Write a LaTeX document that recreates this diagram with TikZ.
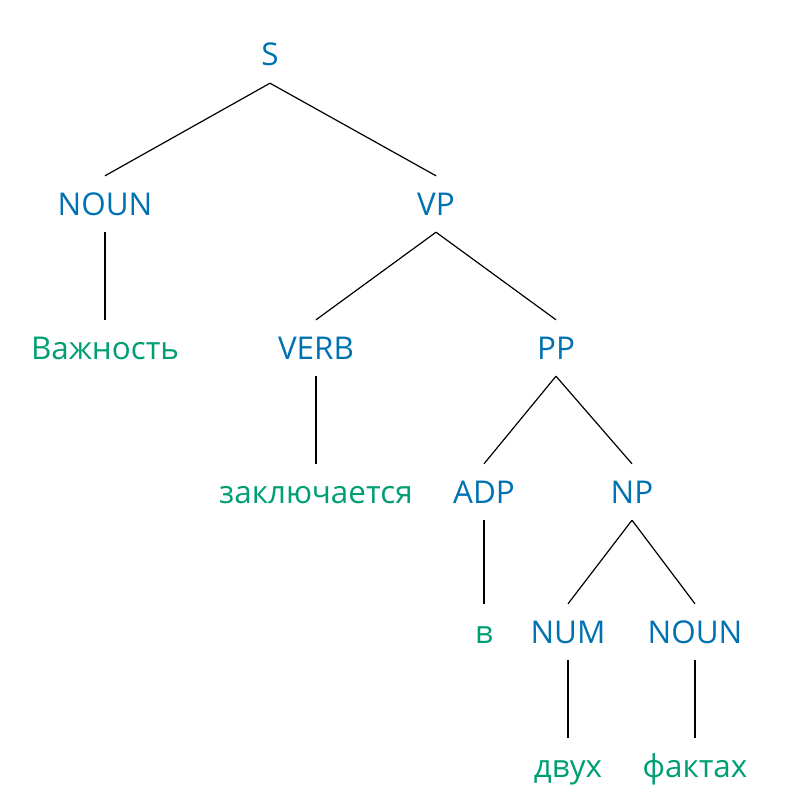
\documentclass[tikz,border=0pt]{standalone}
\usepackage{fontspec}
\setmainfont{Open Sans}
\definecolor{catblue}{HTML}{0072B2}
\definecolor{wordgreen}{HTML}{009E73}
\begin{document}
\begin{tikzpicture}[x=1pt,y=-1pt,
  tn/.style={anchor=base, inner xsep=0pt, inner ysep=17pt, text height=22pt, text depth=0pt, font=\fontsize{31.4}{36}\selectfont},
  cat/.style={tn, text=catblue},
  word/.style={tn, text=wordgreen},
  edge/.style={draw=black, line width=1.2pt}]
\useasboundingbox (0,0) rectangle (794,805);
\node[cat] (S) at (270,66) {S};
\node[cat] (noun1) at (105,215) {NOUN};
\node[cat] (VP) at (436,215) {VP};
\node[word] (w1) at (105,359) {Важность};
\node[cat] (verb) at (316,359) {VERB};
\node[cat] (PP) at (556,359) {PP};
\node[word] (w2) at (316,503) {заключается};
\node[cat] (adp) at (484,503) {ADP};
\node[cat] (NP) at (632,503) {NP};
\node[word] (w3) at (484,643) {в};
\node[cat] (num) at (568,643) {NUM};
\node[cat] (noun2) at (695,643) {NOUN};
\node[word] (w4) at (568,777) {двух};
\node[word] (w5) at (695,777) {фактах};
\draw[edge] (S.south) -- (noun1.north);
\draw[edge] (S.south) -- (VP.north);
\draw[edge] (noun1.south) -- (w1.north);
\draw[edge] (VP.south) -- (verb.north);
\draw[edge] (VP.south) -- (PP.north);
\draw[edge] (verb.south) -- (w2.north);
\draw[edge] (PP.south) -- (adp.north);
\draw[edge] (PP.south) -- (NP.north);
\draw[edge] (adp.south) -- (w3.north);
\draw[edge] (NP.south) -- (num.north);
\draw[edge] (NP.south) -- (noun2.north);
\draw[edge] (num.south) -- (w4.north);
\draw[edge] (noun2.south) -- (w5.north);
\end{tikzpicture}
\end{document}
